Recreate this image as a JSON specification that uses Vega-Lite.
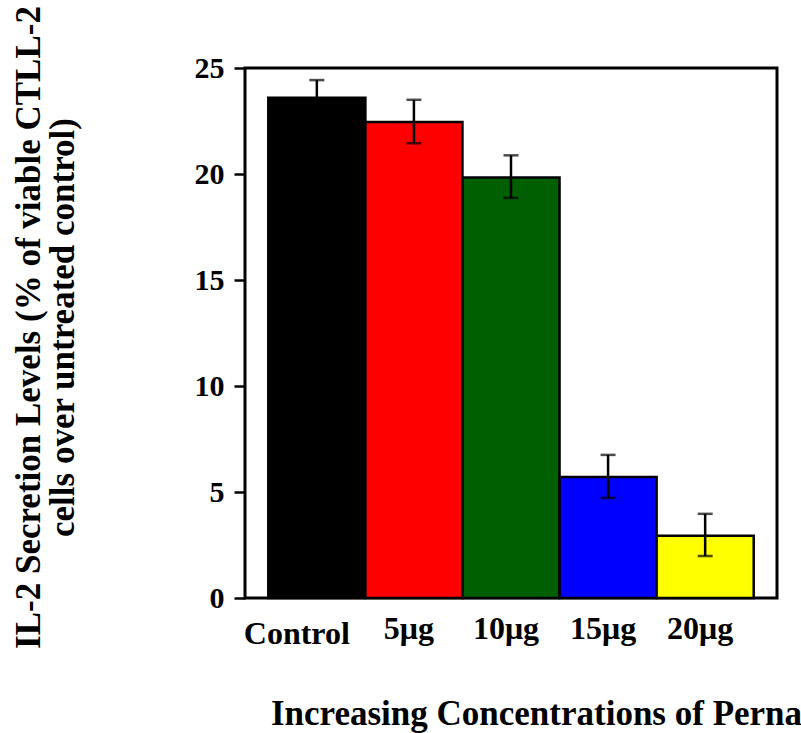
{
  "$schema": "https://vega.github.io/schema/vega-lite/v6.json",
  "width": 532,
  "height": 530,
  "autosize": {"type": "none"},
  "padding": {"left": 245, "top": 68, "right": 24, "bottom": 135},
  "background": "white",
  "config": {
    "view": {"stroke": "black", "strokeWidth": 3},
    "font": "Liberation Serif"
  },
  "data": {
    "values": [
      {"group": "Control", "value": 23.6, "lo": 22.8, "hi": 24.43},
      {"group": "5μg", "value": 22.45, "lo": 21.45, "hi": 23.5},
      {"group": "10μg", "value": 19.83, "lo": 18.87, "hi": 20.88},
      {"group": "15μg", "value": 5.71, "lo": 4.72, "hi": 6.75},
      {"group": "20μg", "value": 2.94, "lo": 1.98, "hi": 3.97}
    ]
  },
  "encoding": {
    "x": {
      "field": "group",
      "type": "nominal",
      "sort": null,
      "scale": {"paddingInner": 0, "paddingOuter": 0.24},
      "axis": {
        "title": "Increasing Concentrations of Perna",
        "titleFont": "Liberation Serif",
        "titleFontSize": 35,
        "titleFontWeight": "bold",
        "titleColor": "black",
        "titleX": 291,
        "titleY": 126,
        "titleBaseline": "alphabetic",
        "titleAlign": "center",
        "ticks": false,
        "domain": false,
        "labelAngle": 0,
        "labelFont": "Liberation Serif",
        "labelFontSize": 32,
        "labelFontWeight": "bold",
        "labelColor": "black",
        "labelPadding": {"condition": {"test": "datum.value === 'Control'", "value": 20}, "value": 15},
        "labelOffset": {"condition": {"test": "datum.value === 'Control'", "value": -20}, "value": -5}
      }
    }
  },
  "layer": [
    {
      "mark": {"type": "bar", "stroke": "black", "strokeWidth": 2.5},
      "encoding": {
        "y": {
          "field": "value",
          "type": "quantitative",
          "scale": {"domain": [0, 25], "nice": false},
          "axis": {
            "title": ["IL-2 Secretion Levels (% of viable CTLL-2", "cells over untreated control)"],
            "titleFont": "Liberation Serif",
            "titleFontSize": 35,
            "titleFontWeight": "bold",
            "titleColor": "black",
            "titleLineHeight": 34,
            "titleX": -217,
            "titleY": 259,
            "titleAngle": -90,
            "titleBaseline": "middle",
            "titleAlign": "center",
            "values": [0, 5, 10, 15, 20, 25],
            "grid": false,
            "domain": false,
            "tickSize": 11,
            "tickWidth": 2.5,
            "tickColor": "black",
            "labelFont": "Liberation Serif",
            "labelFontSize": 30,
            "labelFontWeight": "bold",
            "labelColor": "black",
            "labelPadding": 10
          }
        },
        "color": {
          "field": "group",
          "type": "nominal",
          "scale": {
            "domain": ["Control", "5μg", "10μg", "15μg", "20μg"],
            "range": ["#000000", "#FF0000", "#005F00", "#0000FF", "#FFFF00"]
          },
          "legend": null
        }
      }
    },
    {
      "mark": {"type": "rule", "color": "black", "strokeWidth": 2.5},
      "encoding": {
        "y": {"field": "lo", "type": "quantitative"},
        "y2": {"field": "hi"}
      }
    },
    {
      "mark": {"type": "tick", "color": "black", "size": 15, "thickness": 2.5},
      "encoding": {
        "y": {"field": "hi", "type": "quantitative"}
      }
    },
    {
      "mark": {"type": "tick", "color": "black", "size": 15, "thickness": 2.5},
      "encoding": {
        "y": {"field": "lo", "type": "quantitative"}
      }
    }
  ]
}
